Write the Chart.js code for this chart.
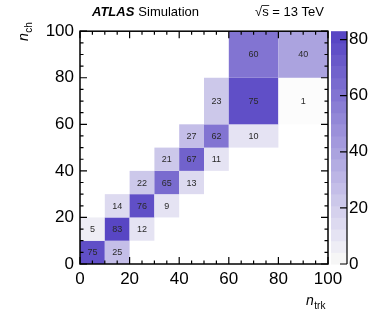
<!DOCTYPE html>
<html>
<head>
<meta charset="utf-8">
<script src="https://cdn.jsdelivr.net/npm/chart.js@4.4.0/dist/chart.umd.min.js"></script>
<style>
  html, body { margin: 0; padding: 0; background: #fff; }
  #wrap { width: 382px; height: 323px; }
</style>
</head>
<body>
<div id="wrap"><canvas id="myChart" width="382" height="323"></canvas></div>
<script>
// bin edges
const nTrkEdges = [0, 10, 20, 30, 40, 50, 60, 80, 100];
const nChEdges = [0, 10, 20, 30, 40, 50, 60, 80, 100];
// percent per cell, one row per n_ch bin (bottom to top), columns = n_trk bins
const cellValues = [
  [75, 25, null, null, null, null, null, null],
  [5, 83, 12, null, null, null, null, null],
  [null, 14, 76, 9, null, null, null, null],
  [null, null, 22, 65, 13, null, null, null],
  [null, null, null, 21, 67, 11, null, null],
  [null, null, null, null, 27, 62, 10, null],
  [null, null, null, null, null, 23, 75, 1],
  [null, null, null, null, null, null, 60, 40]
];
const axisTicks = [0, 20, 40, 60, 80, 100];
const zTicks = [0, 20, 40, 60, 80];
const zMax = 83;
const nLevels = 20;

const FONT = "'Liberation Sans', Arial, Helvetica, sans-serif";

function cellColor(v) {
  let lvl = Math.min(nLevels - 1, Math.floor(v / zMax * nLevels));
  if (lvl === 0) return "rgb(252,252,252)";
  let t = lvl / (nLevels - 1);
  let lo = [246, 246, 248];
  let hi = [88, 70, 196];
  let c = lo.map((a, i) => Math.round(a + (hi[i] - a) * t));
  return "rgb(" + c.join(",") + ")";
}

// points at the cell centres (the plugin uses the edges to fill the cells)
let cellPoints = [];
cellValues.forEach((row, j) => {
  row.forEach((v, i) => {
    if (v === null) return;
    cellPoints.push({
      x: (nTrkEdges[i] + nTrkEdges[i + 1]) / 2,
      y: (nChEdges[j] + nChEdges[j + 1]) / 2,
      v: v, i: i, j: j
    });
  });
});

const heatmap = {
  id: "heatmap",
  beforeDatasetsDraw(chart) {
    const { ctx, scales: { x, y } } = chart;
    ctx.save();
    cellPoints.forEach((p) => {
      let x0 = x.getPixelForValue(nTrkEdges[p.i]);
      let x1 = x.getPixelForValue(nTrkEdges[p.i + 1]);
      let y0 = y.getPixelForValue(nChEdges[p.j]);
      let y1 = y.getPixelForValue(nChEdges[p.j + 1]);
      ctx.fillStyle = cellColor(p.v);
      ctx.fillRect(x0, y1, x1 - x0, y0 - y1);
    });
    ctx.fillStyle = "#2a2a2a";
    ctx.font = "9px " + FONT;
    ctx.textAlign = "center";
    ctx.textBaseline = "middle";
    cellPoints.forEach((p) => {
      ctx.fillText(String(p.v), x.getPixelForValue(p.x), y.getPixelForValue(p.y) + 0.5);
    });
    ctx.restore();
  },
  afterDraw(chart) {
    const { ctx, chartArea: a, scales: { x, y, z } } = chart;
    ctx.save();
    // colour bar
    let bx0 = z.left + 3, bx1 = z.left + 19;
    for (let k = 0; k < nLevels; k++) {
      let lo = k * zMax / nLevels, hi = (k + 1) * zMax / nLevels;
      let p0 = z.getPixelForValue(lo), p1 = z.getPixelForValue(hi);
      ctx.fillStyle = k === 0 ? "rgb(246,246,246)" : cellColor((lo + hi) / 2);
      ctx.fillRect(bx0, p1, bx1 - bx0, p0 - p1 + 0.5);
    }
    ctx.strokeStyle = "#000";
    ctx.lineWidth = 1.2;
    ctx.beginPath();
    ctx.moveTo(bx1, a.top);
    ctx.lineTo(bx1, a.bottom);
    zTicks.forEach((t) => {
      let p = z.getPixelForValue(t);
      ctx.moveTo(bx1, p);
      ctx.lineTo(bx1 - 7, p);
    });
    ctx.stroke();

    // frame + ticks
    ctx.lineWidth = 1.5;
    ctx.strokeRect(a.left, a.top, a.right - a.left, a.bottom - a.top);
    ctx.lineWidth = 1.2;
    ctx.beginPath();
    for (let t = 0; t <= 100; t += 5) {
      let len = t % 20 === 0 ? 7 : 3.5;
      let px = x.getPixelForValue(t);
      ctx.moveTo(px, a.bottom); ctx.lineTo(px, a.bottom - len);
      ctx.moveTo(px, a.top); ctx.lineTo(px, a.top + len);
      let py = y.getPixelForValue(t);
      ctx.moveTo(a.left, py); ctx.lineTo(a.left + len, py);
      ctx.moveTo(a.right, py); ctx.lineTo(a.right - len, py);
    }
    ctx.stroke();

    // header
    ctx.fillStyle = "#000";
    ctx.textBaseline = "alphabetic";
    ctx.textAlign = "left";
    ctx.font = "bold italic 13px " + FONT;
    ctx.fillText("ATLAS", 92, 16);
    let w = ctx.measureText("ATLAS").width;
    ctx.font = "13px " + FONT;
    ctx.fillText("Simulation", 92 + w + 4, 16);
    ctx.textAlign = "right";
    ctx.fillText("\u221As = 13 TeV", 324, 16);
    let tw = ctx.measureText("\u221As = 13 TeV").width;
    let rw = ctx.measureText("\u221A").width;
    let sw = ctx.measureText("s").width;
    ctx.lineWidth = 0.8;
    ctx.beginPath();
    ctx.moveTo(324 - tw + rw - 0.5, 5.5);
    ctx.lineTo(324 - tw + rw + sw + 0.5, 5.5);
    ctx.stroke();

    // axis titles
    ctx.textAlign = "left";
    ctx.font = "italic 14px " + FONT;
    ctx.fillText("n", 306, 305);
    let nw = ctx.measureText("n").width;
    ctx.font = "10px " + FONT;
    ctx.fillText("trk", 306 + nw + 0.5, 309);

    ctx.translate(28, 41);
    ctx.rotate(-Math.PI / 2);
    ctx.font = "italic 14px " + FONT;
    ctx.fillText("n", 0, 0);
    nw = ctx.measureText("n").width;
    ctx.font = "10px " + FONT;
    ctx.fillText("ch", nw + 0.5, 3.5);
    ctx.restore();
  }
};

function graph() {
  var ctx = document.getElementById("myChart");
  var myChart = new Chart(ctx, {
    type: "scatter",
    data: {
      datasets: [
        {
          label: "cells",
          data: cellPoints,
          pointRadius: 0,
          pointHoverRadius: 0,
        },
      ],
    },
    options: {
      responsive: false,
      animation: false,
      layout: { padding: { top: 24, left: 0, right: 0, bottom: 0 } },
      plugins: {
        legend: { display: false },
        tooltip: { enabled: false },
      },
      scales: {
        x: {
          type: "linear",
          min: 0,
          max: 100,
          afterBuildTicks: (s) => { s.ticks = axisTicks.map((v) => ({ value: v })); },
          afterFit: (s) => { s.height = 59; },
          grid: { display: false, drawTicks: false },
          border: { display: false },
          ticks: { color: "#000", padding: 5, maxRotation: 0, font: { family: FONT, size: 17 } },
        },
        y: {
          type: "linear",
          min: 0,
          max: 100,
          afterBuildTicks: (s) => { s.ticks = axisTicks.map((v) => ({ value: v })); },
          afterFit: (s) => { s.width = 80; },
          grid: { display: false, drawTicks: false },
          border: { display: false },
          ticks: { color: "#000", padding: 6, font: { family: FONT, size: 17 } },
        },
        z: {
          type: "linear",
          position: "right",
          min: 0,
          max: zMax,
          afterBuildTicks: (s) => { s.ticks = zTicks.map((v) => ({ value: v })); },
          afterFit: (s) => { s.width = 54; },
          grid: { display: false, drawTicks: false },
          border: { display: false },
          ticks: { color: "#000", padding: 21, font: { family: FONT, size: 17 } },
        },
      },
    },
    plugins: [heatmap],
  });
}
graph();
</script>
</body>
</html>
